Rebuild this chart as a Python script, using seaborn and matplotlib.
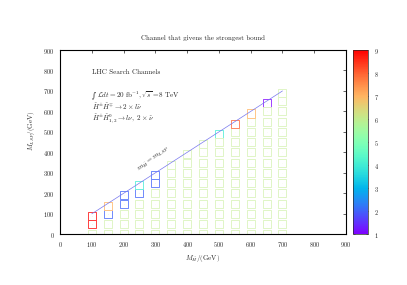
import numpy as np
import pandas as pd
import matplotlib
matplotlib.use('Agg')
import matplotlib.pyplot as plt
import seaborn as sns

# higgsino mass columns of the scan (GeV)
m_higgsino = [100, 150, 200, 250, 300, 350, 400, 450, 500, 550, 600, 650, 700]
# LSP mass rows of the scan (GeV)
m_lsp_grid = [0, 50, 100, 150, 200, 250, 300, 350, 400, 450, 500, 550, 600, 650]
# top point of each column, just under the diagonal
m_lsp_edge = [90, 140, 190, 240, 290, 340, 390, 440, 490, 540, 590, 640, 690]

# channel for most of the plane
default_channel = 6
# points with another channel
special_mh = [100, 100, 150, 150, 200, 200, 250, 250, 300, 300, 500, 550, 600, 650]
special_lsp = [50, 90, 100, 140, 150, 190, 200, 240, 250, 290, 490, 540, 590, 640]
special_channel = [9, 9, 2, 7, 2, 2, 2, 4, 2, 2, 4, 8, 7, 1]

# diagonal m_H = m_LSP
line_x = [100, 700]
line_y = [100, 700]

rows = []
for mh, edge in zip(m_higgsino, m_lsp_edge):
    for ml in [m for m in m_lsp_grid if m < edge] + [edge]:
        rows.append((mh, ml))
df = pd.DataFrame(rows, columns=['mh', 'mlsp'])
special = {(a, b): c for a, b, c in zip(special_mh, special_lsp, special_channel)}
df['channel'] = [special.get((int(a), int(b)), default_channel) for a, b in zip(df.mh, df.mlsp)]

sns.set_style('white')
plt.rcParams['font.family'] = 'serif'
plt.rcParams['font.serif'] = ['cmr10', 'DejaVu Serif']
plt.rcParams['mathtext.fontset'] = 'cm'
plt.rcParams['axes.formatter.use_mathtext'] = True

fig = plt.figure(figsize=(4.07, 2.85), dpi=100)
ax = fig.add_axes([60/407, 1 - 234.3/285, 286/407, 184.3/285])
cax = fig.add_axes([353/407, 1 - 234.3/285, 14.5/407, 184.3/285])

cmap = plt.get_cmap('rainbow')
norm = matplotlib.colors.Normalize(1, 9)


def pale(c, a):
    # mix a palette colour with white
    return tuple(1 - (1 - v) * a for v in c[:3])


# open squares, coloured by channel
for ch, sub in df.groupby('channel'):
    col = cmap(norm(ch))
    a = 0.5 if ch == default_channel else 0.75
    sns.scatterplot(data=sub, x='mh', y='mlsp', marker='s', s=34,
                    facecolors='none', edgecolor=pale(col, a),
                    linewidth=0.7, legend=False, ax=ax)
    sns.scatterplot(data=sub, x='mh', y='mlsp', marker='o', s=0.5,
                    color=pale(col, 0.4), linewidth=0, legend=False, ax=ax)

sns.lineplot(x=line_x, y=line_y, color='#7777ee', lw=0.5, ax=ax)

ax.set_xlim(0, 900)
ax.set_ylim(0, 900)
ax.set_xticks(range(0, 901, 100))
ax.set_yticks(range(0, 901, 100))
ax.tick_params(direction='in', top=True, right=True, labelsize=4.5, length=2.5,
               width=0.5, pad=4)
for s in ax.spines.values():
    s.set_linewidth(0.8)
    s.set_color('black')

ax.set_title('Channel that givens the strongest bound', fontsize=5, pad=7)
ax.set_xlabel(r'$M_{\tilde{H}}/(\mathrm{GeV})$', fontsize=5, labelpad=3)
ax.set_ylabel(r'$M_{LSP}/(\mathrm{GeV})$', fontsize=5, labelpad=4)
ax.yaxis.set_label_coords(-0.082, 0.56)

ax.text(100, 790, 'LHC Search Channels', fontsize=5.1, ha='left', va='center')
ax.text(100, 677, '\u222b', fontsize=5.5, family='DejaVu Serif', ha='left',
        va='center', style='italic')
ax.text(118, 677, r'$\mathcal{L}dt = 20\ \mathrm{fb}^{-1}, \sqrt{s} = 8\ \mathrm{TeV}$',
        fontsize=5.1, ha='left', va='center')
ax.text(100, 620, r'$\tilde{H}^{\pm}\tilde{H}^{\mp} \rightarrow 2\times l\tilde{\nu}$',
        fontsize=5.1, ha='left', va='center')
ax.text(100, 564, r'$\tilde{H}^{\pm}\tilde{H}^{0}_{1,2} \rightarrow l\nu,\ 2\times\tilde{\nu}$',
        fontsize=5.1, ha='left', va='center')
ax.text(296, 365, r'$m_{\tilde{H}} = m_{LSP}$', fontsize=5.3, rotation=37,
        ha='center', va='center')

sm = matplotlib.cm.ScalarMappable(norm=norm, cmap=cmap)
cb = fig.colorbar(sm, cax=cax, ticks=range(1, 10))
cb.outline.set_linewidth(0.5)
cax.tick_params(direction='in', labelsize=4.5, length=1.5, width=0.4, pad=5,
                left=True, right=True)

fig.savefig('out.png', dpi=100)
